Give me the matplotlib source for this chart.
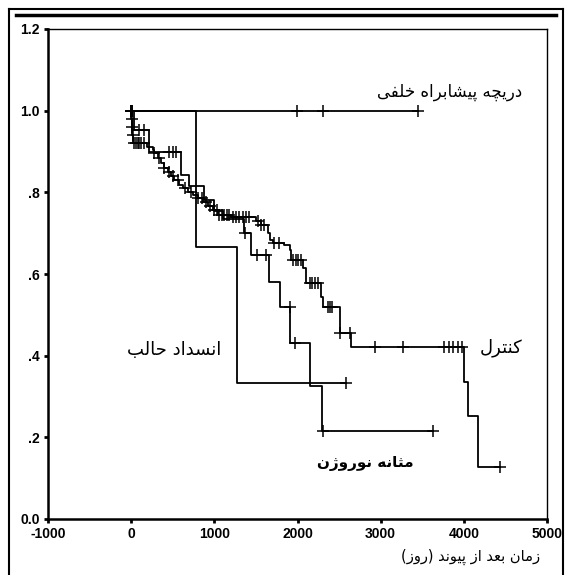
import numpy as np
import matplotlib
matplotlib.use("Agg")
import matplotlib.pyplot as plt
from matplotlib.lines import Line2D

# Kaplan-Meier curves (time in days, survival)
puv_t = [0, 3450]
puv_s = [1.0, 1.0]
puv_c = [0, 8, 16, 1990, 2307, 3450]

uo_t = [0, 783, 1267, 2578]
uo_s = [1.0, 0.667, 0.333, 0.333]
uo_c = [2578]

nb_t = [0, 30, 217, 599, 700, 880, 1000, 1100, 1361, 1442, 1663, 1794, 1914, 2153, 2295, 3626]
nb_s = [1.0, 0.953, 0.899, 0.843, 0.816, 0.78, 0.755, 0.735, 0.70, 0.647, 0.581, 0.519,
        0.432, 0.326, 0.215, 0.215]
nb_c = [0, 10, 96, 157, 458, 506, 542, 1370, 1518, 1623, 1904, 1964, 2310, 3626]

ct_t = [0, 3, 8, 15, 25, 196, 257, 277, 317, 358, 398, 438, 478, 518, 578, 618, 678, 739,
        799, 859, 920, 980, 1050, 1200, 1500, 1560, 1640, 1670, 1702, 1843, 1904, 1924,
        2064, 2105, 2285, 2305, 2506, 2647, 3997, 4049, 4169, 4434]
ct_s = [1.0, 0.98, 0.96, 0.94, 0.92, 0.912, 0.904, 0.896, 0.883, 0.871, 0.859, 0.851, 0.84,
        0.83, 0.818, 0.81, 0.802, 0.794, 0.785, 0.777, 0.767, 0.757, 0.745, 0.74, 0.729,
        0.72, 0.70, 0.683, 0.677, 0.671, 0.659, 0.634, 0.614, 0.577, 0.544, 0.518, 0.455,
        0.422, 0.335, 0.253, 0.127, 0.127]
ct_c = [0, 5, 10, 20, 40, 60, 80, 100, 120, 150, 280, 330, 400, 450, 500, 560, 650, 720,
        800, 850, 900, 950, 1000, 1030, 1060, 1090, 1120, 1150, 1180, 1220, 1260, 1300,
        1340, 1380, 1420, 1530, 1560, 1600, 1720, 1783, 1940, 1980, 2010, 2044, 2145, 2180,
        2210, 2245, 2361, 2385, 2410, 2506, 2627, 2928, 3265, 3757, 3819, 3867, 3928, 3976,
        4434]

x_ticks = [-1000, 0, 1000, 2000, 3000, 4000, 5000]
y_ticks = [0.0, 0.2, 0.4, 0.6, 0.8, 1.0, 1.2]
y_tick_labels = ["0.0", ".2", ".4", ".6", ".8", "1.0", "1.2"]

lbl_puv = "دریچه پیشابراه خلفی"
lbl_ct = "کنترل"
lbl_uo = "انسداد حالب"
lbl_nb = "مثانه نوروژن"
lbl_x = "زمان بعد از پیوند (روز)"

# minimal Persian shaping: (isolated, final, initial, medial)
FORMS = {
    'ا': ('\uFE8D', '\uFE8E', None, None),
    'ب': ('\uFE8F', '\uFE90', '\uFE91', '\uFE92'),
    'پ': ('\uFB56', '\uFB57', '\uFB58', '\uFB59'),
    'ت': ('\uFE95', '\uFE96', '\uFE97', '\uFE98'),
    'ث': ('\uFE99', '\uFE9A', '\uFE9B', '\uFE9C'),
    'چ': ('\uFB7A', '\uFB7B', '\uFB7C', '\uFB7D'),
    'ح': ('\uFEA1', '\uFEA2', '\uFEA3', '\uFEA4'),
    'خ': ('\uFEA5', '\uFEA6', '\uFEA7', '\uFEA8'),
    'د': ('\uFEA9', '\uFEAA', None, None),
    'ر': ('\uFEAD', '\uFEAE', None, None),
    'ز': ('\uFEAF', '\uFEB0', None, None),
    'ژ': ('\uFB8A', '\uFB8B', None, None),
    'س': ('\uFEB1', '\uFEB2', '\uFEB3', '\uFEB4'),
    'ش': ('\uFEB5', '\uFEB6', '\uFEB7', '\uFEB8'),
    'ع': ('\uFEC9', '\uFECA', '\uFECB', '\uFECC'),
    'ف': ('\uFED1', '\uFED2', '\uFED3', '\uFED4'),
    'ک': ('\uFB8E', '\uFB8F', '\uFB90', '\uFB91'),
    'ل': ('\uFEDD', '\uFEDE', '\uFEDF', '\uFEE0'),
    'م': ('\uFEE1', '\uFEE2', '\uFEE3', '\uFEE4'),
    'ن': ('\uFEE5', '\uFEE6', '\uFEE7', '\uFEE8'),
    'ه': ('\uFEE9', '\uFEEA', '\uFEEB', '\uFEEC'),
    'و': ('\uFEED', '\uFEEE', None, None),
    'ی': ('\uFBFC', '\uFBFD', '\uFBFE', '\uFBFF'),
}


def shape(text):
    out = []
    for i, ch in enumerate(text):
        if ch not in FORMS:
            out.append(ch)
            continue
        f = FORMS[ch]
        prev = text[i - 1] if i > 0 else ''
        nxt = text[i + 1] if i + 1 < len(text) else ''
        jp = prev in FORMS and FORMS[prev][2] is not None
        jn = f[2] is not None and nxt in FORMS
        if jp and jn:
            out.append(f[3])
        elif jp:
            out.append(f[1])
        elif jn:
            out.append(f[2])
        else:
            out.append(f[0])
    vis = ''.join(reversed(out))
    return vis.translate(str.maketrans('()', ')('))


def km(ax, t, s, c):
    ax.step(t, s, where='post', color='black', lw=1.3)
    t = np.asarray(t)
    idx = np.searchsorted(t, c, side='right') - 1
    ax.plot(c, np.asarray(s)[idx], ls='none', marker='+', ms=9, mew=1.1, color='black')


fig = plt.figure(figsize=(5.68, 5.75), dpi=100)
ax = fig.add_axes([48 / 568, 56 / 575, 499 / 568, 490 / 575])

km(ax, puv_t, puv_s, puv_c)
km(ax, uo_t, uo_s, uo_c)
km(ax, nb_t, nb_s, nb_c)
km(ax, ct_t, ct_s, ct_c)

ax.set_xlim(-1000, 5000)
ax.set_ylim(0, 1.2)
ax.set_xticks(x_ticks)
ax.set_xticklabels([str(v) for v in x_ticks])
ax.set_yticks(y_ticks)
ax.set_yticklabels(y_tick_labels)
ax.tick_params(direction='out', length=3, width=2, labelsize=10, pad=3)
for lab in ax.get_xticklabels() + ax.get_yticklabels():
    lab.set_family(['Liberation Sans Narrow', 'Liberation Sans'])
    lab.set_weight('bold')
ax.spines['left'].set_linewidth(1.8)
ax.spines['bottom'].set_linewidth(1.8)
ax.spines['top'].set_linewidth(1.0)
ax.spines['right'].set_linewidth(1.0)

fa = ['DejaVu Sans']
ax.text(4700, 1.045, shape(lbl_puv), ha='right', va='center', fontsize=12, family=fa)
ax.text(4700, 0.42, shape(lbl_ct), ha='right', va='center', fontsize=13, family=fa)
ax.text(520, 0.414, shape(lbl_uo), ha='center', va='center', fontsize=13, family=fa)
ax.text(2820, 0.137, shape(lbl_nb), ha='center', va='center', fontsize=11, family=fa,
        weight='bold')
fig.text(540 / 568, 1 - 557 / 575, shape(lbl_x), ha='right', va='center', fontsize=10.5,
         family=fa)

# page frame of the scan
fig.add_artist(Line2D([9 / 568, 9 / 568], [0, 1 - 9 / 575], color='black', lw=1.5))
fig.add_artist(Line2D([563 / 568, 563 / 568], [0, 1 - 9 / 575], color='black', lw=1.5))
fig.add_artist(Line2D([9 / 568, 563 / 568], [1 - 9 / 575, 1 - 9 / 575], color='black', lw=1.5))
fig.add_artist(Line2D([16 / 568, 556 / 568], [1 - 15 / 575, 1 - 15 / 575], color='black', lw=2.5))

fig.savefig("out.png", dpi=100)
